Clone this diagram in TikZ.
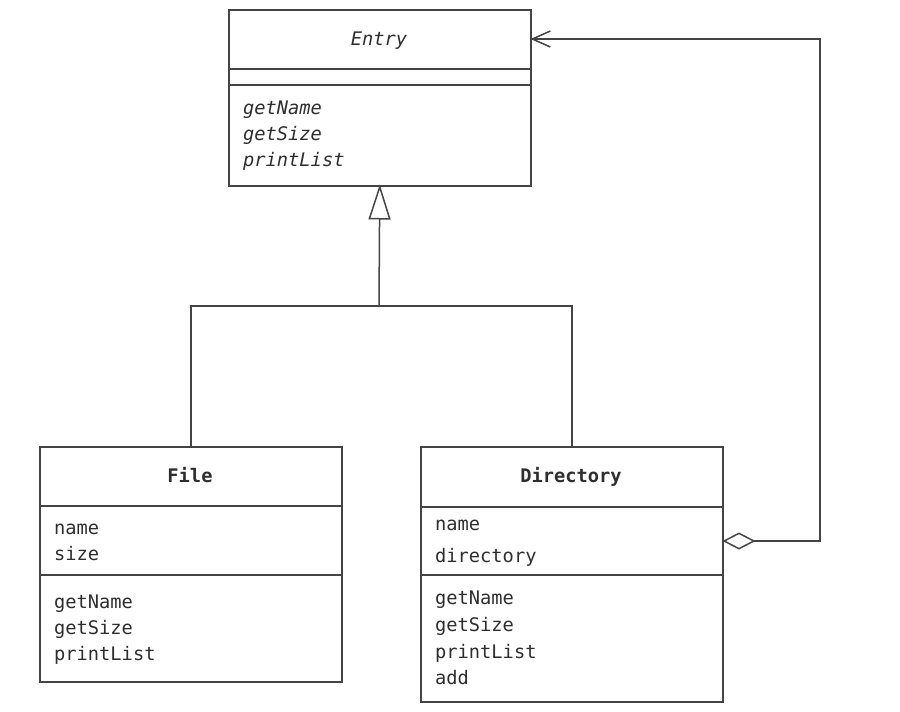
\documentclass[tikz,border=0pt]{standalone}
\usepackage{fontspec}
\setmonofont{DejaVu Sans Mono}
\usetikzlibrary{arrows.meta}
\definecolor{linegray}{HTML}{444444}
\definecolor{textgray}{HTML}{2e2e2e}
\tikzset{
  umlbox/.style={draw=linegray, line width=1.5pt, inner sep=0pt, anchor=north west, minimum width=302pt},
  divider/.style={draw=linegray, line width=1.5pt},
  conn/.style={draw=linegray, line width=1.5pt},
  txt/.style={font=\ttfamily\fontsize{18.7}{20}\selectfont, text=textgray, inner sep=0pt, text height=13pt, text depth=4pt},
  member/.style={txt, anchor=west},
  title/.style={txt, anchor=center},
}
\begin{document}
\begin{tikzpicture}[x=1pt,y=-1pt]
\useasboundingbox (0,0) rectangle (900,712);
% Entry
\node[umlbox, minimum height=176pt] (entry) at (228,9) {};
\draw[divider] (entry.west |- 0,69) -- (entry.east |- 0,69);
\draw[divider] (entry.west |- 0,85) -- (entry.east |- 0,85);
\node[title] (entryt) at (379,41) {\itshape Entry};
\node[member] (e1) at (243,110) {\itshape getName};
\node[member] (e2) at (243,136) {\itshape getSize};
\node[member] (e3) at (243,162) {\itshape printList};
% File
\node[umlbox, minimum height=235pt] (file) at (39,446) {};
\draw[divider] (file.west |- 0,506) -- (file.east |- 0,506);
\draw[divider] (file.west |- 0,575) -- (file.east |- 0,575);
\node[title] (filet) at (190,478) {\bfseries File};
\node[member] (f1) at (54,530) {name};
\node[member] (f2) at (54,556) {size};
\node[member] (f3) at (54,604) {getName};
\node[member] (f4) at (54,630) {getSize};
\node[member] (f5) at (54,656) {printList};
% Directory
\node[umlbox, minimum height=255pt] (dir) at (420,446) {};
\draw[divider] (dir.west |- 0,507) -- (dir.east |- 0,507);
\draw[divider] (dir.west |- 0,575) -- (dir.east |- 0,575);
\node[title] (dirt) at (571,478) {\bfseries Directory};
\node[member] (d1) at (435,526) {name};
\node[member] (d2) at (435,558) {directory};
\node[member] (d3) at (435,600) {getName};
\node[member] (d4) at (435,627) {getSize};
\node[member] (d5) at (435,654) {printList};
\node[member] (d6) at (435,680) {add};
% inheritance
\coordinate (j) at (379,306);
\draw[conn] (file.north) |- (j) -| (dir.north);
\draw[conn, shorten >=-2pt, -{Triangle[open, length=35pt, width=22pt, line width=1.5pt]}] (j) -- (entry.south);
% aggregation
\coordinate (c1) at (820,541);
\coordinate (c2) at (820,39);
\draw[conn, shorten >=-1pt, shorten <=-1pt, {Diamond[open, length=33pt, width=17pt, line width=1.5pt]}-{Straight Barb[length=18pt, width=16pt, line width=1.5pt]}]
  (dir.east |- c1) -- (c1) -- (c2) -- (entry.east |- c2);
\end{tikzpicture}
\end{document}
